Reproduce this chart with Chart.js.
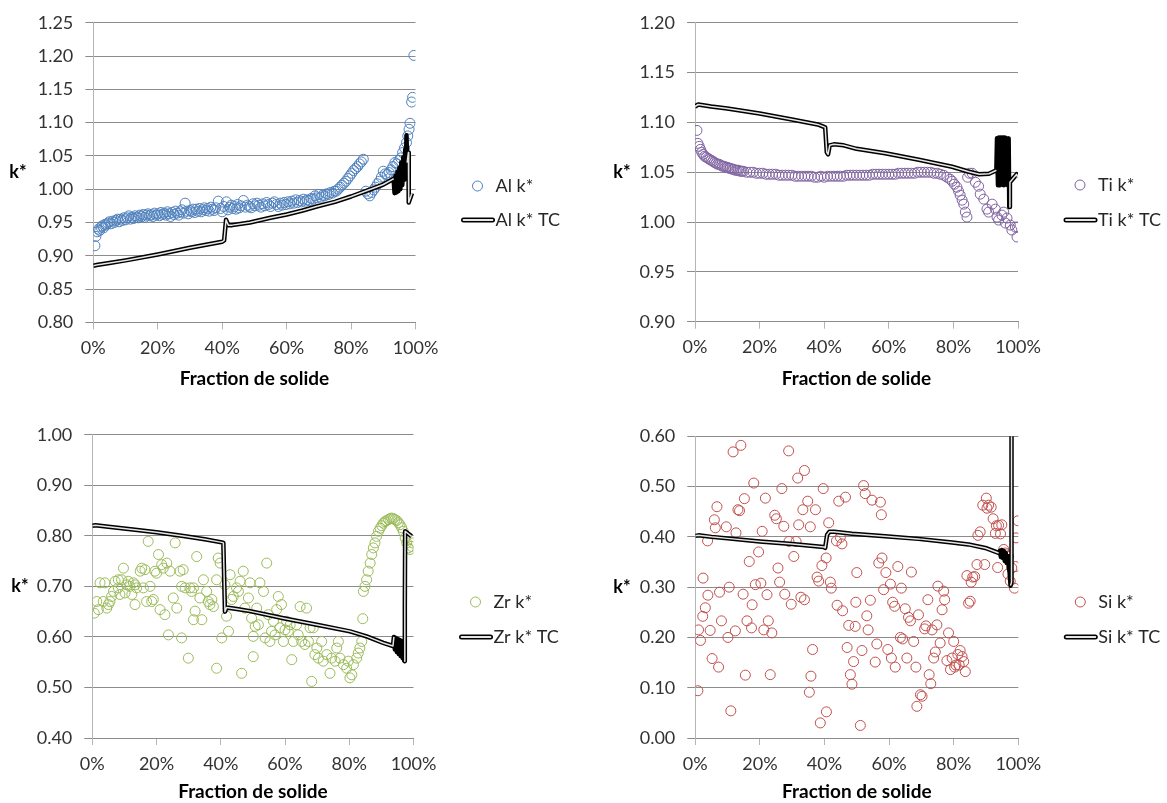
<!DOCTYPE html>
<html>
<head>
<meta charset="utf-8">
<script src="https://cdn.jsdelivr.net/npm/chart.js@4"></script>
<style>
  body { margin: 0; background: #fff; width: 1167px; height: 803px; position: relative; overflow: hidden; }
  canvas { position: absolute; }
</style>
</head>
<body>
<canvas id="al" width="590" height="400" style="left:0;top:0"></canvas>
<canvas id="ti" width="577" height="400" style="left:590px;top:0"></canvas>
<canvas id="zr" width="590" height="398" style="left:0;top:405px"></canvas>
<canvas id="si" width="577" height="398" style="left:590px;top:405px"></canvas>
<script>
Chart.defaults.font.family = "Lato, 'Open Sans', sans-serif";
Chart.defaults.font.size = 18;
Chart.defaults.color = "#333";

// fraction de solide en %, k*
var alX = [0.5,0.8,1.2,1.6,2.0,2.4,2.8,3.2,3.6,4.0,
  4.5,5.0,5.5,6.0,6.5,7.0,7.5,8.0,8.5,9.0,
  9.5,10.0,10.5,11.0,11.5,12.0,12.5,13.0,13.5,14.0,
  14.5,15.0,15.5,16.0,16.5,17.0,17.5,18.0,18.5,19.0,
  19.5,20.0,20.5,21.0,21.5,22.0,22.5,23.0,23.5,24.0,
  24.5,25.0,25.5,26.0,26.5,27.0,27.5,28.0,28.5,29.0,
  29.5,30.0,30.5,31.0,31.5,32.0,32.5,33.0,33.5,34.0,
  34.5,35.0,35.5,36.0,36.5,37.0,37.5,38.0,38.8,39.5,
  40.0,40.5,41.3,41.8,42.3,42.8,43.3,43.8,44.3,44.8,
  45.3,45.8,46.6,47.2,47.8,48.4,49.0,49.6,50.2,50.8,
  51.4,52.0,52.6,53.2,53.8,54.4,55.0,55.6,56.2,56.8,
  57.4,58.0,58.6,59.2,59.8,60.4,61.0,61.6,62.2,62.8,
  63.4,64.0,64.6,65.2,65.8,66.4,67.0,67.6,68.2,68.8,
  69.4,70.0,70.6,71.2,71.8,72.4,73.0,73.6,74.2,74.8,
  75.4,76.0,76.6,77.2,77.8,78.4,79.0,79.6,80.2,80.8,
  81.4,82.0,82.6,83.2,83.8,84.6,85.2,85.8,86.4,87.0,
  87.6,88.2,88.8,89.4,90.0,90.6,91.2,91.8,92.4,93.0,
  93.6,94.2,94.8,95.4,96.0,96.6,97.2,97.6,98.0,98.3,
  98.8,99.1,99.5];
var alY = [0.915,0.929,0.936,0.940,0.938,0.943,0.945,0.942,0.947,0.946,
  0.949,0.951,0.948,0.952,0.950,0.953,0.955,0.951,0.955,0.953,
  0.957,0.954,0.957,0.960,0.955,0.958,0.956,0.960,0.958,0.957,
  0.961,0.959,0.962,0.958,0.961,0.963,0.960,0.962,0.959,0.964,
  0.961,0.963,0.960,0.965,0.962,0.964,0.961,0.966,0.963,0.959,
  0.965,0.962,0.967,0.964,0.961,0.966,0.969,0.964,0.979,0.967,
  0.963,0.968,0.966,0.970,0.965,0.970,0.967,0.971,0.966,0.969,
  0.972,0.968,0.971,0.967,0.973,0.970,0.968,0.972,0.982,0.971,
  0.966,0.974,0.981,0.969,0.973,0.976,0.971,0.974,0.970,0.977,
  0.972,0.975,0.983,0.973,0.976,0.974,0.972,0.978,0.975,0.979,
  0.976,0.973,0.978,0.975,0.980,0.977,0.974,0.979,0.981,0.977,
  0.974,0.979,0.976,0.980,0.977,0.981,0.978,0.982,0.979,0.984,
  0.980,0.983,0.981,0.985,0.982,0.984,0.983,0.986,0.985,0.990,
  0.987,0.992,0.988,0.991,0.990,0.993,0.992,0.995,0.994,0.997,
  0.997,1.000,1.003,1.006,1.009,1.012,1.016,1.020,1.024,1.028,
  1.031,1.034,1.038,1.041,1.045,0.997,0.993,0.990,0.995,0.999,
  1.003,1.008,1.012,1.018,1.027,1.023,1.022,1.025,1.029,1.034,
  1.040,1.038,1.043,1.047,1.055,1.062,1.070,1.080,1.090,1.099,
  1.131,1.138,1.201];
var alTcX = [0,1,5,10,20,30,40,40.6,41.2,41.9,
  43.1,48.6,55,60,65,69.3,75,80,85,90,
  93.0,93.2,93.5,93.8,94.1,94.4,94.7,95.0,95.3,95.6,
  95.9,96.2,96.5,96.8,97.0,97.2,97.4,97.8,97.9,98.9];
var alTcY = [0.885,0.886,0.889,0.893,0.902,0.912,0.921,0.923,0.954,0.946,
  0.946,0.950,0.957,0.962,0.968,0.974,0.981,0.989,0.998,1.007,
  1.015,1.016,0.994,1.020,0.995,1.026,0.997,1.032,1.000,1.040,
  1.006,1.048,1.014,1.060,1.025,1.081,1.040,1.055,0.980,0.994];
var alTcDense = [93.1, 97.5];

var tiX = [0.6,0.9,1.3,1.7,2.1,2.5,3.0,3.5,4.0,4.5,
  5.0,5.5,6.0,6.5,7.0,7.5,8.0,8.5,9.0,9.5,
  10,10.5,11,11.5,12,12.5,13,13.5,14,14.5,
  15,16,17,18,19,20,21,22,23,24,
  25,26,27,28,29,30,31,32,33,34,
  35,36,37,38,39,40,41,42,43,44,
  45,46,47,48,49,50,51,52,53,54,
  55,56,57,58,59,60,61,62,63,64,
  65,66,67,68,69,70,71,72,73,74,
  75,76,77,78,79,79.6,80.3,81.1,81.6,82.1,
  82.7,83.2,83.7,84.2,84.4,85.0,85.8,86.8,87.8,88.3,
  89.4,90.4,90.9,92.0,93.0,93.5,94.0,95.0,95.6,96.1,
  96.6,97.6,98.1,99.2,99.7,99.9];
var tiY = [1.092,1.079,1.076,1.073,1.070,1.068,1.066,1.065,1.064,1.063,
  1.062,1.061,1.060,1.059,1.058,1.058,1.057,1.056,1.056,1.055,
  1.055,1.054,1.054,1.053,1.053,1.052,1.052,1.052,1.051,1.051,
  1.051,1.050,1.050,1.050,1.049,1.049,1.049,1.048,1.048,1.048,
  1.048,1.047,1.047,1.047,1.047,1.047,1.046,1.046,1.046,1.046,
  1.046,1.046,1.045,1.045,1.046,1.045,1.046,1.046,1.046,1.046,
  1.046,1.046,1.047,1.047,1.047,1.047,1.047,1.047,1.047,1.047,
  1.048,1.048,1.048,1.048,1.048,1.048,1.048,1.048,1.049,1.049,
  1.049,1.049,1.049,1.049,1.050,1.050,1.050,1.050,1.050,1.049,
  1.049,1.048,1.047,1.045,1.043,1.041,1.038,1.035,1.031,1.027,
  1.022,1.018,1.010,1.005,1.045,1.049,1.049,1.040,1.036,1.028,
  1.023,1.013,1.010,1.018,1.013,1.005,1.002,1.007,1.010,0.999,
  1.004,0.997,0.992,0.995,0.985,0.995];
var tiTcX = [0,1,5,10,20,30,38,40.3,40.8,41.2,
  41.7,43,46,50,58.9,69.3,79.6,84.8,88,91,
  93.0,93.3,93.5,93.8,94.1,94.4,94.7,95.0,95.3,95.6,
  95.9,96.2,96.5,96.8,97.1,97.3,97.5,99.6,99.9];
var tiTcY = [1.116,1.118,1.116,1.114,1.109,1.103,1.098,1.095,1.070,1.068,
  1.077,1.078,1.077,1.0735,1.069,1.0625,1.0555,1.0505,1.048,1.0485,
  1.0515,1.052,1.084,1.037,1.085,1.037,1.085,1.038,1.085,1.037,
  1.085,1.038,1.084,1.037,1.084,1.015,1.040,1.048,1.045];
var tiTcDense = [93.2, 97.4];

var zrX = [0.6,1.4,1.9,2.4,3.4,3.9,4.5,5.0,5.5,6.0,
  6.6,7.1,8.1,8.1,8.6,9.1,9.7,10.2,10.7,11.2,
  11.7,12.3,12.8,13.3,13.3,13.8,14.9,15.4,15.9,16.4,
  16.9,17.4,18.0,18.5,19.0,19.5,20.0,20.6,21.1,21.6,
  22.1,22.6,23.2,23.7,24.2,25.2,25.8,26.3,27.3,27.8,
  27.8,28.3,28.9,29.9,30.4,30.9,31.5,31.5,32.0,32.5,
  33.5,34.1,34.6,35.6,36.1,36.6,37.2,37.7,38.7,38.7,
  39.2,39.8,40.3,41.3,41.8,42.4,42.9,43.4,43.9,44.9,
  45.5,46.0,46.5,47.0,47.5,48.6,49.1,49.6,50.1,50.1,
  50.7,51.2,51.7,52.2,53.3,53.8,54.3,54.8,55.3,55.8,
  56.4,56.9,57.4,57.9,58.4,58.9,59.5,60.0,60.5,61.0,
  61.6,62.1,62.6,63.6,64.1,64.7,65.2,66.2,66.7,67.3,
  67.8,68.3,68.8,69.3,69.9,70.4,71.4,71.9,73.0,74.0,
  74.5,75.6,76.1,76.6,77.1,78.2,79.2,79.7,80.2,80.8,
  81.3,82.3,82.8,83.3,83.9,84.2,84.4,84.9,85.4,85.9,
  86.5,87.0,87.5,88.0,88.5,89.1,89.6,90.1,90.6,91.1,
  91.6,92.2,92.7,93.2,93.7,94.2,94.8,95.3,95.8,96.3,
  96.8,97.4,97.9,98.4,98.9,99.4,99.7];
var zrY = [0.647,0.670,0.654,0.707,0.670,0.707,0.657,0.664,0.670,0.680,
  0.690,0.710,0.697,0.713,0.684,0.713,0.736,0.687,0.703,0.710,
  0.700,0.684,0.707,0.664,0.703,0.697,0.730,0.736,0.697,0.733,
  0.670,0.789,0.700,0.670,0.674,0.730,0.726,0.763,0.654,0.743,
  0.736,0.644,0.746,0.604,0.730,0.677,0.786,0.657,0.730,0.598,
  0.700,0.733,0.697,0.558,0.697,0.690,0.697,0.634,0.651,0.759,
  0.677,0.634,0.713,0.690,0.670,0.664,0.674,0.660,0.538,0.713,
  0.756,0.746,0.598,0.703,0.641,0.611,0.723,0.674,0.680,0.697,
  0.690,0.710,0.528,0.730,0.657,0.677,0.707,0.637,0.601,0.561,
  0.621,0.657,0.624,0.707,0.690,0.598,0.746,0.644,0.591,0.611,
  0.631,0.604,0.654,0.680,0.618,0.664,0.591,0.614,0.631,0.611,
  0.624,0.555,0.591,0.624,0.604,0.660,0.591,0.585,0.657,0.591,
  0.618,0.512,0.618,0.565,0.578,0.558,0.591,0.552,0.565,0.528,
  0.558,0.552,0.578,0.591,0.558,0.545,0.538,0.552,0.519,0.525,
  0.545,0.558,0.568,0.578,0.591,0.636,0.690,0.700,0.713,0.730,
  0.746,0.763,0.776,0.786,0.799,0.809,0.815,0.820,0.825,0.828,
  0.830,0.832,0.834,0.835,0.834,0.832,0.830,0.826,0.822,0.816,
  0.809,0.796,0.786,0.776,0.773,0.779,0.786];
var zrTcX = [0,1,5,13.3,20,28.9,35,40.3,40.8,41.3,
  41.8,45,49.1,59.5,69.9,80.2,85.4,90.6,93.6,93.9,
  94.2,94.5,94.8,95.1,95.4,95.7,96.0,96.3,96.6,96.9,
  97.1,97.3,97.3,97.4,99.4];
var zrTcY = [0.820,0.821,0.818,0.812,0.807,0.799,0.793,0.787,0.786,0.650,
  0.658,0.655,0.651,0.637,0.624,0.611,0.601,0.588,0.582,0.600,
  0.575,0.598,0.570,0.596,0.566,0.594,0.562,0.592,0.558,0.590,
  0.553,0.552,0.660,0.809,0.799];
var zrTcDense = [93.7, 97.2];

var siX = [0.8,1.0,1.6,2.3,2.4,3.1,3.8,3.9,4.6,5.2,
  5.9,6.2,6.7,7.2,7.5,8.1,9.6,10.1,10.5,11.0,
  11.7,12.4,12.6,13.2,13.7,14.1,14.8,15.2,15.5,16.0,
  16.7,17.4,17.6,18.1,18.6,19.6,20.3,20.7,21.2,21.7,
  22.2,22.6,23.2,23.7,24.6,25.1,25.6,26.1,26.8,27.4,
  27.7,28.9,29.0,29.7,30.5,31.2,31.7,32.0,32.7,33.3,
  33.8,33.8,34.8,35.3,35.6,35.8,36.3,37.2,37.7,38.2,
  38.7,39.2,39.6,40.5,40.6,41.3,41.8,42.1,43.7,43.9,
  44.4,44.9,45.4,45.6,46.5,47.0,47.5,48.0,48.5,49.0,
  49.5,49.7,50.0,51.1,51.6,52.1,52.6,53.1,53.5,54.2,
  54.7,55.7,56.2,56.8,57.3,57.6,57.8,58.3,59.0,59.6,
  60.4,60.7,61.1,61.7,61.9,62.7,63.5,63.8,64.2,65.0,
  65.5,66.0,66.6,66.9,67.6,68.3,68.6,69.1,69.7,70.2,
  71.0,71.4,72.0,72.4,72.9,73.3,73.8,74.3,74.8,75.1,
  75.8,76.4,76.9,77.2,77.9,78.4,79.0,79.5,80.0,80.3,
  80.7,81.3,81.7,82.0,82.6,83.1,83.6,84.1,84.6,85.1,
  85.4,85.9,86.5,87.2,87.5,88.2,89.0,89.6,90.1,90.3,
  90.8,91.6,92.2,92.9,93.2,93.6,93.9,94.5,94.9,95.5,
  96.0,96.5,96.8,97.0,97.5,98.0,98.8,99.1,99.3,99.9];
var siY = [0.094,0.215,0.194,0.242,0.318,0.259,0.392,0.284,0.214,0.158,
  0.434,0.418,0.460,0.141,0.290,0.233,0.420,0.200,0.300,0.054,
  0.569,0.213,0.408,0.454,0.452,0.582,0.286,0.476,0.125,0.233,
  0.351,0.219,0.265,0.507,0.305,0.370,0.308,0.411,0.215,0.477,
  0.285,0.233,0.126,0.209,0.443,0.436,0.338,0.310,0.496,0.421,
  0.286,0.571,0.391,0.266,0.361,0.391,0.517,0.424,0.280,0.454,
  0.532,0.275,0.471,0.091,0.420,0.123,0.176,0.454,0.320,0.312,
  0.030,0.343,0.496,0.358,0.052,0.428,0.310,0.298,0.392,0.264,
  0.471,0.399,0.386,0.253,0.479,0.180,0.224,0.126,0.107,0.152,
  0.222,0.270,0.329,0.025,0.174,0.502,0.486,0.243,0.215,0.274,
  0.473,0.151,0.187,0.348,0.469,0.444,0.358,0.295,0.329,0.176,
  0.306,0.159,0.270,0.262,0.141,0.341,0.200,0.298,0.197,0.257,
  0.159,0.240,0.233,0.330,0.192,0.141,0.063,0.245,0.086,0.083,
  0.217,0.223,0.275,0.126,0.108,0.215,0.159,0.171,0.225,0.302,
  0.189,0.255,0.292,0.275,0.154,0.209,0.136,0.159,0.192,0.141,
  0.145,0.166,0.145,0.174,0.162,0.152,0.132,0.323,0.268,0.272,
  0.310,0.320,0.321,0.345,0.403,0.410,0.463,0.345,0.477,0.457,
  0.463,0.459,0.436,0.407,0.422,0.339,0.423,0.406,0.424,0.375,
  0.368,0.364,0.326,0.361,0.312,0.338,0.298,0.341,0.398,0.432];
var siTcX = [0,1,5,10,20,30,39.7,40.2,40.8,41.5,
  43,48.5,58.8,69.1,79.5,84.6,89.8,93.9,94.3,94.6,
  94.9,95.2,95.5,95.8,96.1,96.4,96.7,97.0,97.3,97.6,
  97.9,97.9];
var siTcY = [0.402,0.403,0.400,0.397,0.391,0.386,0.380,0.378,0.404,0.410,
  0.410,0.406,0.401,0.396,0.389,0.385,0.378,0.368,0.372,0.360,
  0.374,0.358,0.372,0.352,0.368,0.348,0.362,0.343,0.330,0.303,
  0.310,0.75];
var siTcDense = [93.8, 97.8];

function pts(xs, ys) {
  return xs.map(function (x, i) { return { x: x, y: ys[i] }; });
}

// k* a gauche (non tourne) + legende a droite facon Excel
var kExtras = {
  id: "kExtras",
  afterDraw: function (chart, args, o) {
    var ctx = chart.ctx, a = chart.chartArea, ds = chart.data.datasets;
    var fam = "Lato, 'Open Sans', sans-serif";
    ctx.save();
    ctx.textBaseline = "middle";
    ctx.textAlign = "center";
    ctx.fillStyle = "#000";
    ctx.font = "bold 18px " + fam;
    ctx.fillText("k*", o.titleX, (a.top + a.bottom) / 2);

    ctx.textAlign = "left";
    ctx.fillStyle = "#262626";
    ctx.font = "18px " + fam;
    var r = a.right;
    ctx.beginPath();
    ctx.arc(r + 62, o.ly[0], 5, 0, Math.PI * 2);
    ctx.strokeStyle = ds[2].borderColor;
    ctx.lineWidth = 1;
    ctx.stroke();
    ctx.fillText(ds[2].label, r + 80, o.ly[0]);

    ctx.lineCap = "round";
    ctx.beginPath();
    ctx.moveTo(r + 48, o.ly[1]);
    ctx.lineTo(r + 77, o.ly[1]);
    ctx.strokeStyle = "#000";
    ctx.lineWidth = 5;
    ctx.stroke();
    ctx.strokeStyle = "#e6e6e6";
    ctx.lineWidth = 1.8;
    ctx.stroke();
    ctx.fillText(ds[1].label, r + 80, o.ly[1]);
    ctx.restore();
  }
};

function makeChart(id, s) {
  var dense = function (c) {
    var x0 = c.p0.parsed.x, x1 = c.p1.parsed.x;
    return x0 > s.dense[0] && x1 > s.dense[0] && x0 < s.dense[1] && x1 < s.dense[1]
      ? "rgba(0,0,0,0)" : undefined;
  };
  return new Chart(document.getElementById(id), {
    type: "scatter",
    data: {
      datasets: [
        { label: s.name + " k* TC", data: pts(s.tcX, s.tcY), showLine: true, pointRadius: 0,
          borderColor: "#e6e6e6", borderWidth: 1.5, borderJoinStyle: "round", order: 0,
          segment: { borderColor: dense } },
        { label: s.name + " k* TC", data: pts(s.tcX, s.tcY), showLine: true, pointRadius: 0,
          borderColor: "#000", borderWidth: 4.5, borderJoinStyle: "round", order: 1 },
        { label: s.name + " k*", data: pts(s.x, s.y), pointRadius: 5, pointBorderWidth: 1,
          borderColor: s.color, backgroundColor: "rgba(0,0,0,0)", order: 2 }
      ]
    },
    plugins: [kExtras],
    options: {
      responsive: false,
      animation: false,
      events: [],
      layout: { padding: { left: 0, top: s.top, right: s.right, bottom: 0 } },
      plugins: {
        legend: { display: false },
        tooltip: { enabled: false },
        kExtras: { titleX: s.titleX, ly: s.ly }
      },
      scales: {
        x: {
          type: "linear", min: 0, max: 100,
          afterFit: function (sc) { sc.height = s.xh; },
          ticks: { stepSize: 20, padding: 8, callback: function (v) { return v + "%"; } },
          grid: { drawOnChartArea: false, tickLength: 7, tickColor: "#b5b5b5" },
          border: { color: "#8c8c8c" },
          title: { display: true, text: "Fraction de solide", color: "#000",
            font: { size: 19, weight: "bold" }, padding: { top: 0, bottom: s.titlePad } }
        },
        y: {
          min: s.min, max: s.max,
          afterFit: function (sc) { sc.width = s.yw; },
          ticks: { stepSize: s.step, padding: 12, callback: function (v) { return v.toFixed(2); } },
          grid: { color: "#8c8c8c", tickColor: "#8c8c8c", tickLength: 8 },
          border: { color: "#b5b5b5" }
        }
      }
    }
  });
}

makeChart("al", { name: "Al", x: alX, y: alY, tcX: alTcX, tcY: alTcY, dense: alTcDense, color: "#4f81bd",
  min: 0.8, max: 1.25, step: 0.05, top: 17.3, right: 174.5, yw: 93.3, xh: 77.7, titlePad: 10, titleX: 18, ly: [186, 220] });
makeChart("ti", { name: "Ti", x: tiX, y: tiY, tcX: tiTcX, tcY: tiTcY, dense: tiTcDense, color: "#8064a2",
  min: 0.9, max: 1.2, step: 0.05, top: 17.3, right: 149, yw: 105, xh: 78.3, titlePad: 10, titleX: 32, ly: [185, 220] });
makeChart("zr", { name: "Zr", x: zrX, y: zrY, tcX: zrTcX, tcY: zrTcY, dense: zrTcDense, color: "#9bbb59",
  min: 0.4, max: 1.0, step: 0.1, top: 29.7, right: 176.5, yw: 92.3, xh: 65, titlePad: 0, titleX: 20, ly: [197, 232] });
makeChart("si", { name: "Si", x: siX, y: siY, tcX: siTcX, tcY: siTcY, dense: siTcDense, color: "#c0504d",
  min: 0, max: 0.6, step: 0.1, top: 31.3, right: 148.7, yw: 105.3, xh: 65, titlePad: 0, titleX: 32, ly: [197, 232] });
</script>
</body>
</html>
